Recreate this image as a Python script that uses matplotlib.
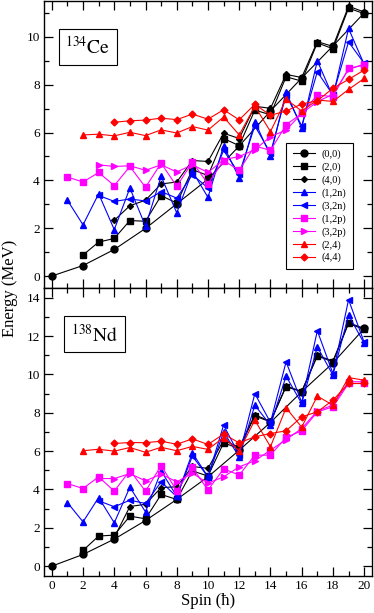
import matplotlib
matplotlib.use("Agg")
import matplotlib.pyplot as plt
from matplotlib.ticker import MultipleLocator

plt.rcParams['font.family'] = ['Liberation Serif', 'DejaVu Serif']
plt.rcParams['mathtext.fontset'] = 'stix'

# ---------------- data: 134Ce (top panel) ----------------
ce_labels = ["(0,0)", "(2,0)", "(4,0)", "(1,2n)", "(3,2n)", "(1,2p)", "(3,2p)", "(2,4)", "(4,4)"]

ce_00_spin = [0, 2, 4, 6, 8, 10, 12, 14, 16, 18, 20]
ce_00_E = [0.0, 0.44, 1.11, 1.99, 3.02, 4.05, 5.44, 6.9, 8.28, 9.62, 11.0]

ce_20_spin = list(range(2, 21))
ce_20_E = [0.88, 1.42, 1.57, 2.32, 2.29, 3.36, 3.05, 4.45, 4.2, 5.75, 5.45, 6.94, 6.74,
           8.33, 8.15, 9.75, 9.5, 11.2, 10.97]

ce_40_spin = list(range(4, 21))
ce_40_E = [2.33, 2.94, 3.17, 3.85, 3.93, 4.83, 4.79, 5.97, 5.75, 7.1, 7.01, 8.43, 8.3,
           9.8, 9.6, 11.28, 11.04]

ce_12n_spin = list(range(1, 21))
ce_12n_E = [3.17, 2.14, 3.44, 1.94, 3.68, 2.08, 4.17, 2.64, 4.38, 3.29, 5.44, 4.1, 6.46,
            5.03, 7.7, 6.18, 9.0, 7.5, 10.35, 8.85]

ce_32n_spin = list(range(3, 21))
ce_32n_E = [3.37, 3.12, 3.22, 3.14, 3.53, 3.26, 4.24, 3.68, 5.25, 4.28, 6.28, 5.14, 7.57,
            6.28, 8.54, 7.57, 9.79, 8.89]

ce_12p_spin = list(range(1, 21))
ce_12p_E = [4.14, 3.93, 4.33, 3.78, 4.58, 3.71, 4.72, 3.75, 4.76, 3.86, 4.83, 4.42, 5.44,
            5.25, 6.32, 6.8, 7.57, 7.5, 8.68, 8.82]

ce_32p_spin = list(range(3, 21))
ce_32p_E = [4.65, 4.58, 4.61, 4.42, 4.65, 4.35, 4.65, 4.33, 4.86, 5.0, 5.28, 5.83, 6.1,
            6.8, 7.29, 7.6, 8.64, 8.86]

ce_24_spin = list(range(2, 21))
ce_24_E = [5.9, 5.93, 5.86, 6.01, 5.87, 6.11, 5.98, 6.25, 6.1, 6.65, 5.9, 7.1, 6.04,
           7.39, 6.9, 7.36, 7.3, 7.8, 8.26]

ce_44_spin = list(range(4, 21))
ce_44_E = [6.43, 6.49, 6.52, 6.6, 6.54, 6.77, 6.56, 6.95, 6.53, 7.18, 6.72, 6.9, 7.19,
           7.33, 7.85, 8.22, 8.61]

# ---------------- data: 138Nd (bottom panel) ----------------
nd_00_spin = [0, 2, 4, 6, 8, 10, 12, 14, 16, 18, 20]
nd_00_E = [0.0, 0.61, 1.41, 2.38, 3.48, 4.66, 6.05, 7.5, 9.1, 10.6, 12.4]

nd_20_spin = list(range(2, 21))
nd_20_E = [0.82, 1.57, 1.62, 2.61, 2.47, 3.74, 3.48, 4.97, 4.7, 6.43, 6.14, 7.83, 7.53,
           9.36, 9.1, 10.96, 10.66, 12.66, 12.35]

nd_40_spin = list(range(4, 21))
nd_40_E = [1.5, 3.11, 3.23, 4.1, 4.14, 5.2, 5.1, 6.57, 6.2, 7.9, 7.55, 9.4, 9.12,
           11.0, 10.7, 12.7, 12.4]

nd_12n_spin = list(range(1, 21))
nd_12n_E = [3.32, 2.31, 3.58, 2.26, 4.12, 2.83, 4.96, 3.65, 5.91, 4.66, 7.0, 5.7, 8.4,
            7.35, 9.91, 8.49, 11.44, 9.97, 13.1, 11.62]

nd_32n_spin = list(range(3, 21))
nd_32n_E = [3.41, 3.1, 3.44, 3.27, 4.4, 3.62, 5.74, 4.66, 7.36, 5.79, 9.0, 7.5, 10.66,
            8.55, 12.28, 10.05, 13.9, 11.68]

nd_12p_spin = list(range(1, 21))
nd_12p_E = [4.31, 4.05, 4.66, 3.91, 4.99, 3.91, 5.25, 3.93, 5.15, 3.97, 5.08, 4.75, 5.79,
            5.79, 6.72, 7.06, 8.05, 8.31, 9.53, 9.53]

nd_32p_spin = list(range(3, 21))
nd_32p_E = [4.57, 4.57, 4.83, 4.45, 4.8, 4.4, 4.85, 4.33, 4.66, 5.18, 5.5, 6.05, 6.6,
            7.18, 8.1, 8.4, 9.62, 9.62]

nd_24_spin = list(range(2, 21))
nd_24_E = [6.02, 6.1, 6.0, 6.19, 5.94, 6.2, 6.02, 6.25, 6.09, 6.71, 6.02, 7.62, 6.23,
           8.26, 7.25, 8.87, 8.4, 9.84, 9.7]

nd_44_spin = list(range(4, 21))
nd_44_E = [6.4, 6.45, 6.44, 6.52, 6.36, 6.64, 6.35, 6.89, 6.43, 6.75, 6.92, 7.06, 7.79,
           8.05, 8.66, 9.53, 9.53]

# ---------------- styles ----------------
styles = [
    dict(color='black', marker='o', ms=5.0),
    dict(color='black', marker='s', ms=4.5),
    dict(color='black', marker='D', ms=3.0),
    dict(color='blue', marker='^', ms=5.0),
    dict(color='blue', marker='<', ms=5.0),
    dict(color='magenta', marker='s', ms=4.5),
    dict(color='magenta', marker='>', ms=5.0),
    dict(color='red', marker='^', ms=5.0),
    dict(color='red', marker='D', ms=3.5),
]

ce_series = [(ce_00_spin, ce_00_E), (ce_20_spin, ce_20_E), (ce_40_spin, ce_40_E),
             (ce_12n_spin, ce_12n_E), (ce_32n_spin, ce_32n_E), (ce_12p_spin, ce_12p_E),
             (ce_32p_spin, ce_32p_E), (ce_24_spin, ce_24_E), (ce_44_spin, ce_44_E)]
nd_series = [(nd_00_spin, nd_00_E), (nd_20_spin, nd_20_E), (nd_40_spin, nd_40_E),
             (nd_12n_spin, nd_12n_E), (nd_32n_spin, nd_32n_E), (nd_12p_spin, nd_12p_E),
             (nd_32p_spin, nd_32p_E), (nd_24_spin, nd_24_E), (nd_44_spin, nd_44_E)]

fig = plt.figure(figsize=(3.74, 6.13), dpi=100)
ax1 = fig.add_axes([0.1176, 0.5302, 0.877, 0.4682])
ax2 = fig.add_axes([0.1176, 0.0608, 0.877, 0.4690])

def draw(ax, series, labels=None):
    for i, ((s, e), st) in enumerate(zip(series, styles)):
        ax.plot(s, e, color=st['color'], marker=st['marker'], ms=st['ms'], lw=0.8,
                mec=st['color'], mfc=st['color'],
                label=(labels[i] if labels else None))

def style_axes(ax, ymax, labelx):
    ax.set_xlim(-0.5, 20.5)
    ax.set_ylim(-0.5, ymax)
    ax.xaxis.set_major_locator(MultipleLocator(2))
    ax.xaxis.set_minor_locator(MultipleLocator(1))
    ax.yaxis.set_major_locator(MultipleLocator(2))
    ax.yaxis.set_minor_locator(MultipleLocator(1))
    ax.tick_params(which='both', direction='in', top=True, right=True, width=0.9,
                   labelsize=9.5, labelbottom=labelx, pad=3)
    ax.tick_params(which='major', length=6.5)
    ax.tick_params(which='minor', length=3.3)
    for sp in ax.spines.values():
        sp.set_linewidth(1.0)

draw(ax1, ce_series, ce_labels)
draw(ax2, nd_series)
style_axes(ax1, 11.5, False)
style_axes(ax2, 14.5, True)

leg = ax1.legend(loc='lower right', bbox_to_anchor=(0.957, 0.049), fontsize=7.5,
                 frameon=True, fancybox=False, edgecolor='black', framealpha=1,
                 handlelength=2.2, labelspacing=0.32, borderpad=0.6, handletextpad=0.6)
leg.get_frame().set_linewidth(0.8)

box = dict(boxstyle='square,pad=0.35', fc='white', ec='black', lw=0.8)
ax1.text(0.134, 0.84, r'$^{134}\mathrm{Ce}$', transform=ax1.transAxes, fontsize=14,
         ha='center', va='center', bbox=box)
ax2.text(0.155, 0.84, r'$^{138}\mathrm{Nd}$', transform=ax2.transAxes, fontsize=14,
         ha='center', va='center', bbox=box)

fig.text(0.028, 0.53, 'Energy (MeV)', rotation=90, ha='center', va='center', fontsize=12)
ax2.set_xlabel('Spin (ħ)', fontsize=12, labelpad=1)

fig.savefig('out.png', dpi=100)
